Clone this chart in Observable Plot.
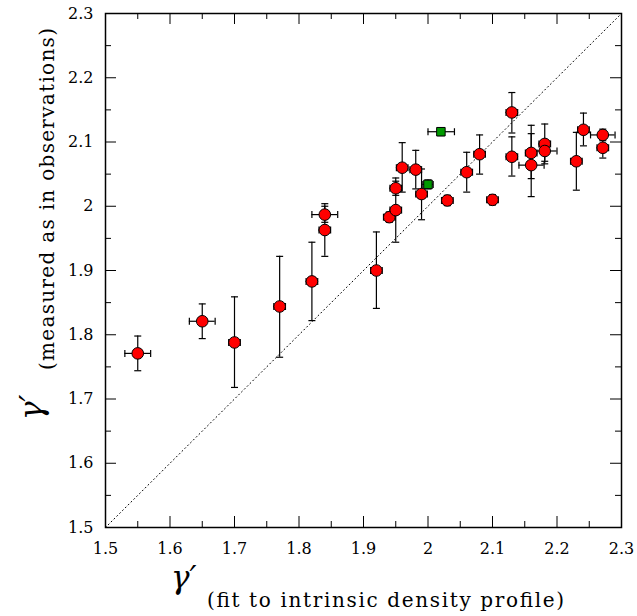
<!DOCTYPE html>
<html>
<head>
<meta charset="utf-8">
<script src="https://cdn.jsdelivr.net/npm/d3@7"></script>
<script src="https://cdn.jsdelivr.net/npm/@observablehq/plot@0.6"></script>
<style>
  html, body { margin: 0; padding: 0; background: #fff; }
  #chart { position: relative; width: 637px; height: 616px; }
</style>
</head>
<body>
<div id="chart"></div>
<script>
// ---- data ----
const redX   = [1.550,1.650,1.700,1.770,1.820,1.840,1.840,1.920,1.940,1.950,1.950,1.960,1.981,1.990,2.030,2.060,2.080,2.100,2.130,2.130,2.160,2.160,2.181,2.181,2.230,2.241,2.271,2.271];
const redY   = [1.771,1.821,1.788,1.844,1.883,1.963,1.987,1.900,1.983,1.994,2.028,2.060,2.057,2.019,2.009,2.053,2.081,2.010,2.146,2.077,2.083,2.064,2.097,2.086,2.070,2.119,2.111,2.091];
const redXLo = [1.530,1.630,1.691,1.761,1.811,1.831,1.820,1.911,1.931,1.941,1.941,1.951,1.972,1.981,2.021,2.051,2.071,2.091,2.121,2.121,2.151,2.141,2.172,2.160,2.221,2.232,2.252,2.262];
const redXHi = [1.570,1.670,1.709,1.779,1.829,1.849,1.860,1.929,1.949,1.959,1.959,1.969,1.990,1.999,2.039,2.069,2.089,2.109,2.139,2.139,2.169,2.180,2.190,2.200,2.239,2.250,2.290,2.280];
const redYLo = [1.744,1.794,1.718,1.765,1.822,1.922,1.975,1.841,1.975,1.944,2.017,2.022,2.027,1.979,2.001,2.022,2.050,2.002,2.114,2.047,2.043,2.015,2.066,2.070,2.025,2.094,2.102,2.075];
const redYHi = [1.798,1.848,1.859,1.922,1.944,2.004,2.000,1.960,1.991,2.044,2.039,2.099,2.087,2.058,2.017,2.084,2.111,2.018,2.177,2.108,2.126,2.113,2.128,2.101,2.115,2.145,2.120,2.107];

const greenX   = [2.020, 2.000];
const greenY   = [2.116, 2.034];
const greenXLo = [2.000, 1.992];
const greenXHi = [2.041, 2.008];
const greenYLo = [2.110, 2.027];
const greenYHi = [2.122, 2.041];

const majorTicks = [1.5,1.6,1.7,1.8,1.9,2.0,2.1,2.2,2.3];
const minorTicks = [1.55,1.65,1.75,1.85,1.95,2.05,2.15,2.25];
const tickLabels = ["1.5","1.6","1.7","1.8","1.9","2","2.1","2.2","2.3"];
const diagonal   = [1.5, 2.3];

const xLabelSymbol = "γ\u2032";
const xLabelText   = "(fit to intrinsic density profile)";
const yLabelSymbol = "γ\u2032";
const yLabelText   = "(measured as in observations)";

// ---- build ----
const W = 637, H = 616;
const mL = 105, mR = 16, mT = 13, mB = 89;
const innerW = W - mL - mR, innerH = H - mT - mB;
const majorLen = 11, minorLen = 6;

const red = redX.map((x, i) => ({x, y: redY[i], xlo: redXLo[i], xhi: redXHi[i], ylo: redYLo[i], yhi: redYHi[i]}));
const green = greenX.map((x, i) => ({x, y: greenY[i], xlo: greenXLo[i], xhi: greenXHi[i], ylo: greenYLo[i], yhi: greenYHi[i]}));
const all = red.concat(green);
const diag = diagonal.map(v => ({v}));

const capH = {draw(ctx, size) { const r = Math.sqrt(size / Math.PI); ctx.moveTo(-r, 0); ctx.lineTo(r, 0); }};
const capV = {draw(ctx, size) { const r = Math.sqrt(size / Math.PI); ctx.moveTo(0, -r); ctx.lineTo(0, r); }};
const capR = 3.5;
const fmt = d => tickLabels[majorTicks.findIndex(t => Math.abs(t - d) < 1e-9)];

const chart = Plot.plot({
  width: W, height: H,
  marginLeft: mL, marginRight: mR, marginTop: mT, marginBottom: mB,
  x: {domain: [1.5, 2.3], label: null},
  y: {domain: [1.5, 2.3], label: null},
  style: {fontFamily: "'DejaVu Serif', serif", fontSize: "16px", color: "black", background: "white"},
  marks: [
    Plot.line(diag, {x: "v", y: "v", stroke: "black", strokeWidth: 1, strokeDasharray: "1,3"}),
    Plot.ruleX(all, {x: "x", y1: "ylo", y2: "yhi", stroke: "black", strokeWidth: 1.2}),
    Plot.ruleY(all, {y: "y", x1: "xlo", x2: "xhi", stroke: "black", strokeWidth: 1.2}),
    Plot.dot(all, {x: "x", y: "ylo", symbol: capH, r: capR, stroke: "black", strokeWidth: 1.2}),
    Plot.dot(all, {x: "x", y: "yhi", symbol: capH, r: capR, stroke: "black", strokeWidth: 1.2}),
    Plot.dot(all, {x: "xlo", y: "y", symbol: capV, r: capR, stroke: "black", strokeWidth: 1.2}),
    Plot.dot(all, {x: "xhi", y: "y", symbol: capV, r: capR, stroke: "black", strokeWidth: 1.2}),
    Plot.dot(red, {x: "x", y: "y", r: 5.8, fill: "#ff0000", stroke: "black", strokeWidth: 1}),
    Plot.dot(green, {x: "x", y: "y", symbol: "square", r: 4.8, fill: "#009a00", stroke: "black", strokeWidth: 1}),
    Plot.tickX(majorTicks, {x: d => d, insetTop: innerH - majorLen, stroke: "black"}),
    Plot.tickX(majorTicks, {x: d => d, insetBottom: innerH - majorLen, stroke: "black"}),
    Plot.tickX(minorTicks, {x: d => d, insetTop: innerH - minorLen, stroke: "black"}),
    Plot.tickX(minorTicks, {x: d => d, insetBottom: innerH - minorLen, stroke: "black"}),
    Plot.tickY(majorTicks, {y: d => d, insetRight: innerW - majorLen, stroke: "black"}),
    Plot.tickY(majorTicks, {y: d => d, insetLeft: innerW - majorLen, stroke: "black"}),
    Plot.tickY(minorTicks, {y: d => d, insetRight: innerW - minorLen, stroke: "black"}),
    Plot.tickY(minorTicks, {y: d => d, insetLeft: innerW - minorLen, stroke: "black"}),
    Plot.axisX(majorTicks, {anchor: "bottom", tickSize: 0, tickPadding: 15, tickFormat: fmt, label: null, fontSize: 16}),
    Plot.axisY(majorTicks, {anchor: "left", tickSize: 0, tickPadding: 12, tickFormat: fmt, label: null, fontSize: 16}),
    Plot.frame({stroke: "black", strokeWidth: 1.5})
  ]
});

document.getElementById("chart").appendChild(chart);

// axis titles
const svg = d3.select(chart);
const serif = "'DejaVu Serif', serif";
function addText(transform, str, size, italic, len) {
  const t = svg.append("text")
    .attr("transform", transform)
    .attr("text-anchor", "start")
    .style("text-anchor", "start")
    .style("font-family", serif)
    .style("font-size", size + "px")
    .style("font-style", italic ? "italic" : "normal")
    .style("fill", "black")
    .text(str);
  if (len) t.attr("textLength", len).attr("lengthAdjust", "spacing");
}
addText("translate(171,588)", xLabelSymbol, 31, true);
addText("translate(207,607)", xLabelText, 20, false, 357);
addText("translate(42,420) rotate(-90)", yLabelSymbol, 31, true);
addText("translate(54,370) rotate(-90)", yLabelText, 20, false, 342);
</script>
</body>
</html>
